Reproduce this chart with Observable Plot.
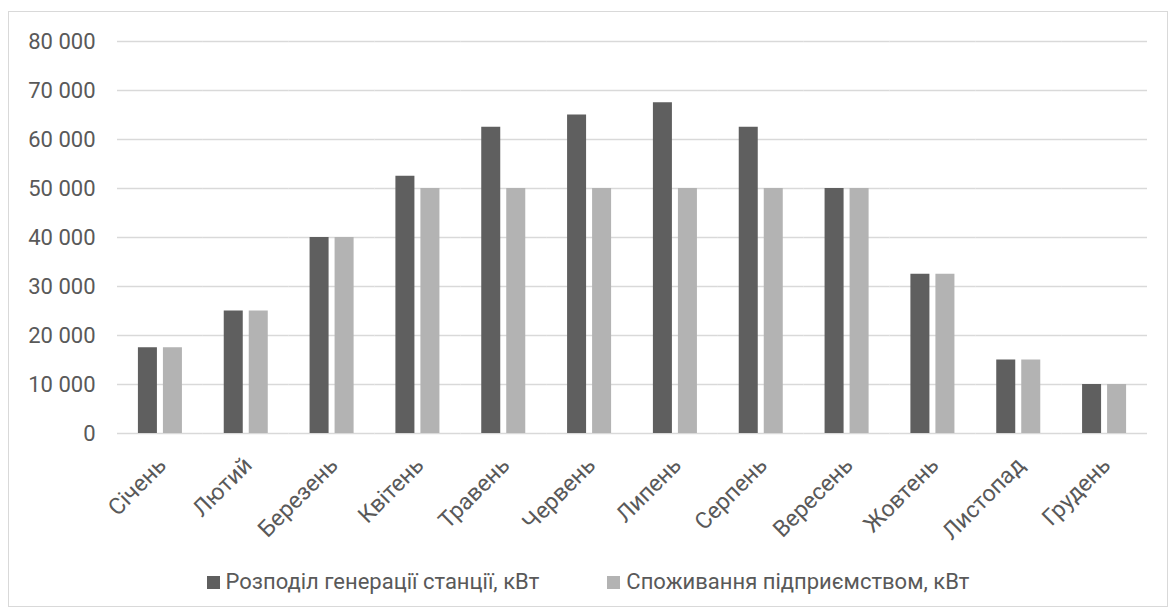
<!DOCTYPE html>
<html>
<head>
<meta charset="utf-8">
<script src="https://cdn.jsdelivr.net/npm/d3@7"></script>
<script src="https://cdn.jsdelivr.net/npm/@observablehq/plot@0.6"></script>
<style>
  body { margin: 0; background: #fff; }
  #frame {
    position: absolute; left: 8px; top: 11px;
    width: 1158px; height: 594px;
    border: 1px solid #d9d9d9; background: #fff;
    font-family: "Roboto", sans-serif; color: #595959;
  }
  #legend {
    position: absolute; left: 0; right: 0; top: 557px;
    display: flex; justify-content: center; gap: 68px;
    font-size: 22px; line-height: 26px;
  }
  #legend .item { display: flex; align-items: center; }
  #legend .sw { width: 13px; height: 13px; margin-right: 6px; }
</style>
</head>
<body>
<div id="frame"><div id="chart"></div><div id="legend"></div></div>
<script>
// Monthly station generation vs. enterprise consumption, kW
const months = ["Січень", "Лютий", "Березень", "Квітень", "Травень", "Червень",
                "Липень", "Серпень", "Вересень", "Жовтень", "Листопад", "Грудень"];
const generation  = [17500, 25000, 40000, 52500, 62500, 65000, 67500, 62500, 50000, 32500, 15000, 10000];
const consumption = [17500, 25000, 40000, 50000, 50000, 50000, 50000, 50000, 50000, 32500, 15000, 10000];
const seriesNames = ["Розподіл генерації станції, кВт", "Споживання підприємством, кВт"];
const seriesColors = ["#5f5f5f", "#b3b3b3"];
const yTicks = [0, 10000, 20000, 30000, 40000, 50000, 60000, 70000, 80000];

const rows = months.flatMap((m, i) => [
  {month: m, series: seriesNames[0], value: generation[i]},
  {month: m, series: seriesNames[1], value: consumption[i]}
]);

const fmt = d3.formatLocale({decimal: ",", thousands: " ", grouping: [3], currency: ["", ""]}).format(",");

const chart = Plot.plot({
  width: 1158,
  height: 533,
  marginLeft: 108,
  marginRight: 20,
  marginTop: 29,
  marginBottom: 112,
  style: {fontFamily: "Roboto, sans-serif", fontSize: "22px", color: "#595959", background: "#fff"},
  fx: {domain: months, padding: 0, round: false, label: null, axis: null},
  x: {domain: seriesNames, paddingInner: 0.24, paddingOuter: 0.836, round: false, axis: null},
  y: {domain: [0, 80000], label: null},
  color: {domain: seriesNames, range: seriesColors},
  marks: [
    Plot.gridY(yTicks, {stroke: "#d9d9d9", strokeOpacity: 1, strokeWidth: 1.3}),
    Plot.axisY(yTicks, {tickSize: 0, tickPadding: 22, tickFormat: fmt, label: null}),
    Plot.barY(rows, {fx: "month", x: "series", y: "value", fill: "series"}),
    // month names under each group, slanted at 45°
    Plot.text(months, {
      fx: (d) => d, text: (d) => d,
      frameAnchor: "bottom", rotate: -45, textAnchor: "end", lineAnchor: "middle",
      dy: 28, dx: 2, fill: "#595959", fontSize: 23
    })
  ]
});
document.getElementById("chart").appendChild(chart);

// Legend below the plot
const legend = d3.select("#legend");
seriesNames.forEach((name, i) => {
  const item = legend.append("div").attr("class", "item");
  item.append("div").attr("class", "sw").style("background", seriesColors[i]);
  item.append("span").text(name);
});
</script>
</body>
</html>
